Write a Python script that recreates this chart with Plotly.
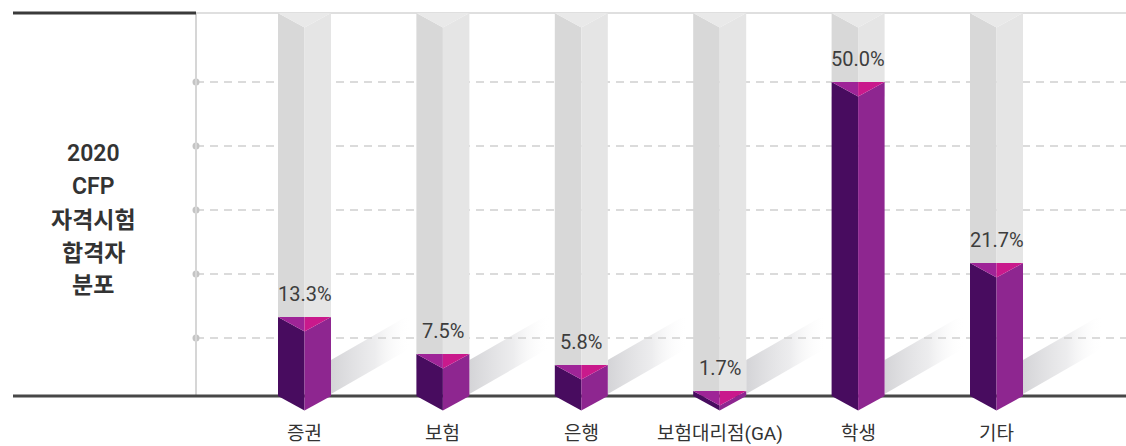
import plotly.graph_objects as go

# ---- data ----
categories = ["증권", "보험", "은행", "보험대리점(GA)", "학생", "기타"]
values = [13.3, 7.5, 5.8, 1.7, 50.0, 21.7]
value_labels = ["13.3%", "7.5%", "5.8%", "1.7%", "50.0%", "21.7%"]
grid_values = [10, 20, 30, 40, 50]
title_lines = ["2020", "CFP", "자격시험", "합격자", "분포"]

# ---- geometry (pixel scale of the axes) ----
W, H = 1126, 446
PX_X = 138.4          # pixels per category step
X0_PX = 304.5         # pixel of first category centre
PX_Y = 6.4            # pixels per percentage point
ZERO_PX = 402         # pixel row of value zero
BASE_PX = 396         # pixel row of the drawn baseline
TOP_PX = 13

xr = [-X0_PX / PX_X, (W - X0_PX) / PX_X]
yr = [-(H - ZERO_PX) / PX_Y, ZERO_PX / PX_Y]

def dx(px):
    return px / PX_X

def dy(px):
    return px / PX_Y

def yrow(px_row):
    return (ZERO_PX - px_row) / PX_Y

hw = dx(26.5)
depth = dy(14.5)
y_top = yrow(TOP_PX)
y_base = yrow(BASE_PX)
x_left_axis = dx(196 - X0_PX)
x_far_left = dx(13 - X0_PX)
x_right = xr[1]

fig = go.Figure()

def poly(xs, ys, color):
    fig.add_trace(go.Scatter(
        x=list(xs) + [xs[0]], y=list(ys) + [ys[0]], mode="lines", fill="toself",
        fillcolor=color, line=dict(width=0, color=color), hoverinfo="skip",
        showlegend=False))

# shadows
for i, v in enumerate(values):
    xrgt = i + hw
    xs = [xrgt, xrgt, xrgt + dx(80), xrgt + dx(80)]
    ys = [y_base + dy(2), y_base + dy(36), y_base + dy(82), y_base + dy(48)]
    fig.add_trace(go.Scatter(
        x=xs + [xs[0]], y=ys + [ys[0]], mode="lines", fill="toself",
        line=dict(width=0, color="rgba(0,0,0,0)"), hoverinfo="skip", showlegend=False,
        fillgradient=dict(type="horizontal",
                          colorscale=[[0, "rgba(212,212,215,1)"], [0.55, "rgba(232,232,234,0.8)"],
                                      [1, "rgba(255,255,255,0)"]])))

# dashed gridlines
for g in grid_values:
    fig.add_trace(go.Scatter(x=[x_left_axis, x_right], y=[g, g], mode="lines",
                             line=dict(color="#cfcfcf", width=1.3, dash="8px,6px"),
                             hoverinfo="skip", showlegend=False))
fig.add_trace(go.Scatter(x=[x_left_axis] * len(grid_values), y=grid_values, mode="markers",
                         marker=dict(color="#c4c4c4", size=7), hoverinfo="skip", showlegend=False))

# axis frame lines
fig.add_trace(go.Scatter(x=[x_left_axis, x_left_axis], y=[y_base, y_top], mode="lines",
                         line=dict(color="#d6d6d6", width=2), hoverinfo="skip", showlegend=False))
fig.add_trace(go.Scatter(x=[x_left_axis, x_right], y=[y_top, y_top], mode="lines",
                         line=dict(color="#d4d4d4", width=1.5), hoverinfo="skip", showlegend=False))
fig.add_trace(go.Scatter(x=[x_far_left, x_left_axis], y=[y_top, y_top], mode="lines",
                         line=dict(color="#3a3a3a", width=3), hoverinfo="skip", showlegend=False))

# gray background columns
for i, v in enumerate(values):
    c = i
    poly([c - hw, c, c, c - hw], [y_top, y_top - depth, v, v], "#d8d8d8")
    poly([c, c + hw, c + hw, c], [y_top - depth, y_top, v, v], "#e5e5e5")
    poly([c - hw, c + hw, c], [y_top, y_top, y_top - depth], "#e9e9e9")

# baseline
fig.add_trace(go.Scatter(x=[x_far_left, x_right], y=[y_base, y_base], mode="lines",
                         line=dict(color="#474747", width=3), hoverinfo="skip", showlegend=False))

# purple prisms
for i, v in enumerate(values):
    c = i
    b = y_base
    poly([c - hw, c, c, c - hw], [v, v - depth, b - depth, b], "#480c5f")
    poly([c, c + hw, c + hw, c], [v - depth, v, b, b - depth], "#8e2690")
    poly([c - hw, c, c], [v, v, v - depth], "#9e2497")
    poly([c, c + hw, c], [v, v, v - depth], "#c9198c")

FONT = "Roboto, 'Noto Sans CJK KR', sans-serif"
annotations = []
for i, (v, lab) in enumerate(zip(values, value_labels)):
    annotations.append(dict(x=i, y=v, text=lab, showarrow=False, yanchor="middle", yshift=23,
                            font=dict(family=FONT, size=20, color="#3d3d3d")))
for i, cat in enumerate(categories):
    annotations.append(dict(x=i, y=yrow(433), text=cat, showarrow=False, yanchor="middle",
                            font=dict(family=FONT, size=19, color="#333333")))
title_y_px = [153, 186, 220, 253, 285]
for t, ypx in zip(title_lines, title_y_px):
    annotations.append(dict(x=93 / W, y=1 - ypx / H, xref="paper", yref="paper", text=t,
                            showarrow=False, xanchor="center", yanchor="middle",
                            font=dict(family=FONT, size=23, color="#333333", weight=600)))

fig.update_layout(
    width=W, height=H, margin=dict(l=0, r=0, t=0, b=0),
    paper_bgcolor="white", plot_bgcolor="white",
    xaxis=dict(range=xr, visible=False, fixedrange=True),
    yaxis=dict(range=yr, visible=False, fixedrange=True),
    annotations=annotations, showlegend=False,
)
fig.write_html("out.html", config={"displayModeBar": False},
               post_script="document.body.style.margin='0';document.body.style.overflow='hidden';")
